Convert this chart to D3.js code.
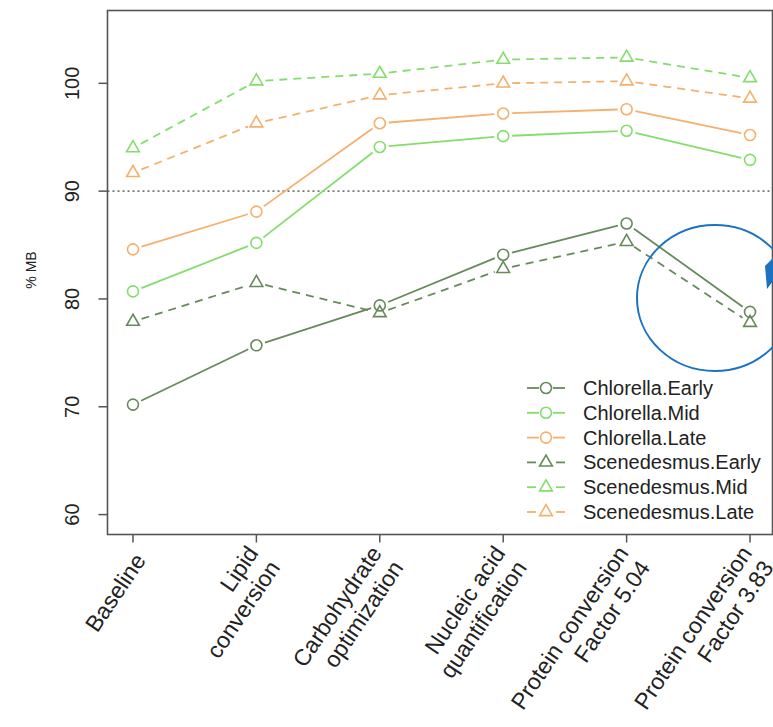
<!DOCTYPE html>
<html><head><meta charset="utf-8">
<script src="https://cdn.jsdelivr.net/npm/d3@7"></script>
<style>html,body{margin:0;padding:0;background:#fff;}svg{display:block;}</style>
</head><body>
<svg id="chart" width="773" height="727"></svg>
<script>
const categories = ["Baseline", "Lipid\nconversion", "Carbohydrate\noptimization", "Nucleic acid\nquantification", "Protein conversion\nFactor 5.04", "Protein conversion\nFactor 3.83"];
const chlorellaEarly = [70.2, 75.7, 79.4, 84.1, 87.0, 78.8];
const chlorellaMid = [80.7, 85.2, 94.1, 95.1, 95.6, 92.9];
const chlorellaLate = [84.6, 88.1, 96.3, 97.2, 97.6, 95.2];
const scenedesmusEarly = [77.9, 81.5, 78.7, 82.8, 85.3, 77.8];
const scenedesmusMid = [94.0, 100.2, 100.9, 102.2, 102.4, 100.5];
const scenedesmusLate = [91.7, 96.3, 98.9, 100.0, 100.2, 98.6];
const yTicks = [60, 70, 80, 90, 100];
const referenceLine = 90;
const seriesNames = ["Chlorella.Early", "Chlorella.Mid", "Chlorella.Late", "Scenedesmus.Early", "Scenedesmus.Mid", "Scenedesmus.Late"];

const colEarly = "#668a5c", colMid = "#84dd6c", colLate = "#f4b06c";
const series = [
  {name: seriesNames[0], values: chlorellaEarly, color: colEarly, shape: "circle", dash: null},
  {name: seriesNames[1], values: chlorellaMid, color: colMid, shape: "circle", dash: null},
  {name: seriesNames[2], values: chlorellaLate, color: colLate, shape: "circle", dash: null},
  {name: seriesNames[3], values: scenedesmusEarly, color: colEarly, shape: "triangle", dash: "8,6"},
  {name: seriesNames[4], values: scenedesmusMid, color: colMid, shape: "triangle", dash: "8,6"},
  {name: seriesNames[5], values: scenedesmusLate, color: colLate, shape: "triangle", dash: "8,6"}
];

const svg = d3.select("#chart");
const L = 107.5, R = 772.5, T = 10.5, B = 534.5;
const x = d3.scaleLinear().domain([0.8, 6.2]).range([108.3, 774.7]);
const y = d3.scaleLinear().domain([58.2, 106.8]).range([534, 10]);
const font = "'Liberation Sans', Arial, Helvetica, sans-serif";

// reference dotted line
svg.append("line").attr("x1", L).attr("x2", R).attr("y1", y(referenceLine)).attr("y2", y(referenceLine))
  .attr("stroke", "#777").attr("stroke-width", 1.6).attr("stroke-dasharray", "2,3");

// series lines with gaps (type="b")
const gap = 9;
series.forEach(s => {
  const g = svg.append("g");
  for (let i = 0; i < s.values.length - 1; i++) {
    const x1 = x(i + 1), y1 = y(s.values[i]), x2 = x(i + 2), y2 = y(s.values[i + 1]);
    const dx = x2 - x1, dy = y2 - y1, len = Math.hypot(dx, dy);
    const ux = dx / len, uy = dy / len;
    g.append("line")
      .attr("x1", x1 + ux * gap).attr("y1", y1 + uy * gap)
      .attr("x2", x2 - ux * gap).attr("y2", y2 - uy * gap)
      .attr("stroke", s.color).attr("stroke-width", 1.8)
      .attr("stroke-dasharray", s.dash);
  }
  s.values.forEach((v, i) => drawSymbol(svg, s.shape, x(i + 1), y(v), s.color));
});

function drawSymbol(parent, shape, cx, cy, color) {
  if (shape === "circle") {
    parent.append("circle").attr("cx", cx).attr("cy", cy).attr("r", 5.5)
      .attr("fill", "none").attr("stroke", color).attr("stroke-width", 1.6);
  } else {
    parent.append("path").attr("d", d3.symbol(d3.symbolTriangle, 70)())
      .attr("transform", `translate(${cx},${cy})`)
      .attr("fill", "none").attr("stroke", color).attr("stroke-width", 1.6);
  }
}

// plot box
svg.append("rect").attr("x", L).attr("y", T).attr("width", R - L).attr("height", B - T)
  .attr("fill", "none").attr("stroke", "#555").attr("stroke-width", 1.6);

// y axis
const yAxis = svg.append("g");
yTicks.forEach(t => {
  yAxis.append("line").attr("x1", L).attr("x2", L - 9).attr("y1", y(t)).attr("y2", y(t))
    .attr("stroke", "#555").attr("stroke-width", 1.5);
  yAxis.append("text").attr("transform", `translate(72,${y(t)}) rotate(-90)`)
    .attr("text-anchor", "middle").attr("dominant-baseline", "central")
    .attr("font-family", font).attr("font-size", 20).attr("fill", "#222").text(t);
});
svg.append("text").attr("transform", `translate(31,270) rotate(-90)`)
  .attr("text-anchor", "middle").attr("dominant-baseline", "central")
  .attr("font-family", font).attr("font-size", 14).attr("fill", "#222").text("% MB");

// x axis
const ang = -56, rad = ang * Math.PI / 180;
const lh = 26;
categories.forEach((c, i) => {
  const xp = x(i + 1);
  svg.append("line").attr("x1", xp).attr("x2", xp).attr("y1", B).attr("y2", B + 8)
    .attr("stroke", "#555").attr("stroke-width", 1.5);
  const lines = c.split("\n");
  const n = lines.length;
  lines.forEach((ln, j) => {
    const off = (j - (n - 1) / 2) * lh;
    const px = -Math.sin(rad) * off, py = Math.cos(rad) * off;
    svg.append("text")
      .attr("transform", `translate(${xp + 7 + px},${556 + py}) rotate(${ang})`)
      .attr("text-anchor", "end").attr("dominant-baseline", "central")
      .attr("font-family", font).attr("font-size", 23).attr("fill", "#222").text(ln);
  });
});

// legend
const legY0 = 388, legDy = 24.8;
series.forEach((s, i) => {
  const ly = legY0 + i * legDy;
  const segs = s.dash ? [[527, 536], [556, 565]] : [[527, 539], [553, 565]];
  segs.forEach(([a, b]) => svg.append("line").attr("x1", a).attr("x2", b).attr("y1", ly).attr("y2", ly)
    .attr("stroke", s.color).attr("stroke-width", 1.8));
  drawSymbol(svg, s.shape, 546, ly, s.color);
  svg.append("text").attr("x", 583).attr("y", ly).attr("dominant-baseline", "central")
    .attr("font-family", font).attr("font-size", 20).attr("fill", "#222").text(s.name);
});

// annotation
svg.append("ellipse").attr("cx", 715).attr("cy", 298).attr("rx", 78).attr("ry", 73)
  .attr("fill", "none").attr("stroke", "#1b72c2").attr("stroke-width", 2);
svg.append("path").attr("d", "M773,258 L765,266 L767,289 L773,281 Z").attr("fill", "#1b72c2");
</script>
</body></html>
